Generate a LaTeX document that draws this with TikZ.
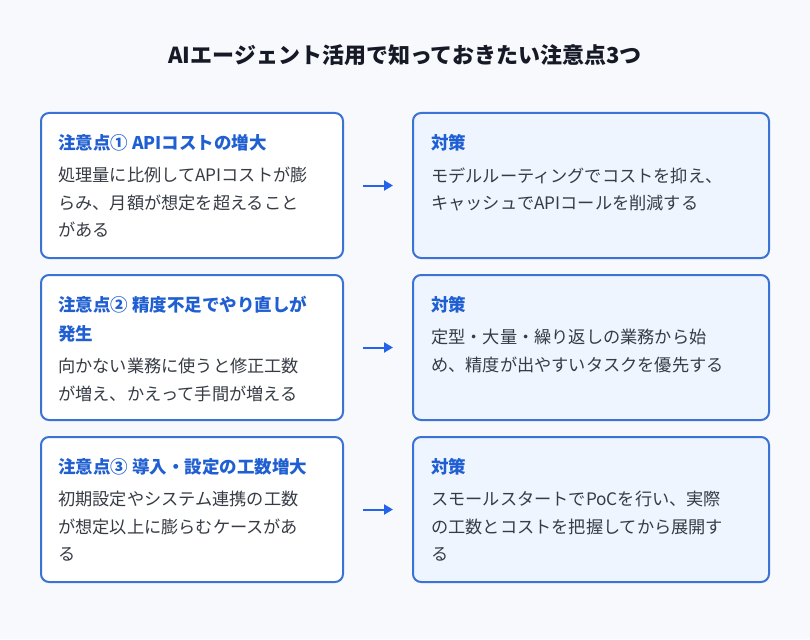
\documentclass[tikz,border=0pt]{standalone}
\usepackage{fontspec}
\setmainfont{Noto Sans CJK JP}
\usepackage{tikz}
\usetikzlibrary{arrows.meta,positioning}
\definecolor{bg}{HTML}{F7F9FC}
\definecolor{edge}{HTML}{3A72D6}
\definecolor{headblue}{HTML}{1F5FD2}
\definecolor{ink}{HTML}{363B44}
\definecolor{fixfill}{HTML}{EFF5FF}
\definecolor{titleink}{HTML}{161A26}
\definecolor{arrowblue}{HTML}{2563EB}

\begin{document}
\begin{tikzpicture}[
    x=1pt, y=1pt,
    node distance=17pt and 70pt,
    riskbox/.style={draw=edge, line width=2pt, rounded corners=8pt, fill=white, minimum width=302pt, minimum height=145pt, inner sep=0pt, outer sep=0pt},
    fixbox/.style={riskbox, fill=fixfill, minimum width=356pt},
    boxtitle/.style={anchor=north west, inner sep=0pt, text=headblue, align=left, font=\fontsize{17.5}{28.5}\selectfont\bfseries},
    boxtext/.style={anchor=north west, inner sep=0pt, text=ink, align=left, font=\fontsize{17.2}{27.5}\selectfont},
    arr/.style={-{Triangle[length=9pt, width=10pt]}, line width=2pt, arrowblue, shorten <=20pt, shorten >=20pt},
]
\fill[bg] (0,0) rectangle (810,-639);
\node[font=\fontsize{22}{26}\selectfont\bfseries, text=titleink] (title) at (405,-55) {AIエージェント活用で知っておきたい注意点3つ};

% row 1
\node[riskbox, anchor=north west] (r1) at (41,-113) {};
\node[fixbox, right=of r1] (c1) {};
\node[boxtitle] (r1t) at ([shift={(17,-21)}]r1.north west) {注意点① APIコストの増大};
\node[boxtext, below=16pt of r1t.south west, anchor=north west] (r1b) {処理量に比例してAPIコストが膨\\らみ、月額が想定を超えること\\がある};
\node[boxtitle] (c1t) at ([shift={(18,-21)}]c1.north west) {対策};
\node[boxtext, below=16pt of c1t.south west, anchor=north west] (c1b) {モデルルーティングでコストを抑え、\\キャッシュでAPIコールを削減する};

% row 2
\node[riskbox, below=of r1] (r2) {};
\node[fixbox, right=of r2] (c2) {};
\node[boxtitle] (r2t) at ([shift={(17,-21)}]r2.north west) {注意点② 精度不足でやり直しが\\発生};
\node[boxtext, below=16pt of r2t.south west, anchor=north west] (r2b) {向かない業務に使うと修正工数\\が増え、かえって手間が増える};
\node[boxtitle] (c2t) at ([shift={(18,-21)}]c2.north west) {対策};
\node[boxtext, below=16pt of c2t.south west, anchor=north west] (c2b) {定型・大量・繰り返しの業務から始\\め、精度が出やすいタスクを優先する};

% row 3
\node[riskbox, below=of r2] (r3) {};
\node[fixbox, right=of r3] (c3) {};
\node[boxtitle] (r3t) at ([shift={(17,-21)}]r3.north west) {注意点③ 導入・設定の工数増大};
\node[boxtext, below=16pt of r3t.south west, anchor=north west] (r3b) {初期設定やシステム連携の工数\\が想定以上に膨らむケースがあ\\る};
\node[boxtitle] (c3t) at ([shift={(18,-21)}]c3.north west) {対策};
\node[boxtext, below=16pt of c3t.south west, anchor=north west] (c3b) {スモールスタートでPoCを行い、実際\\の工数とコストを把握してから展開す\\る};

\draw[arr] (r1) -- (c1);
\draw[arr] (r2) -- (c2);
\draw[arr] (r3) -- (c3);
\end{tikzpicture}
\end{document}
